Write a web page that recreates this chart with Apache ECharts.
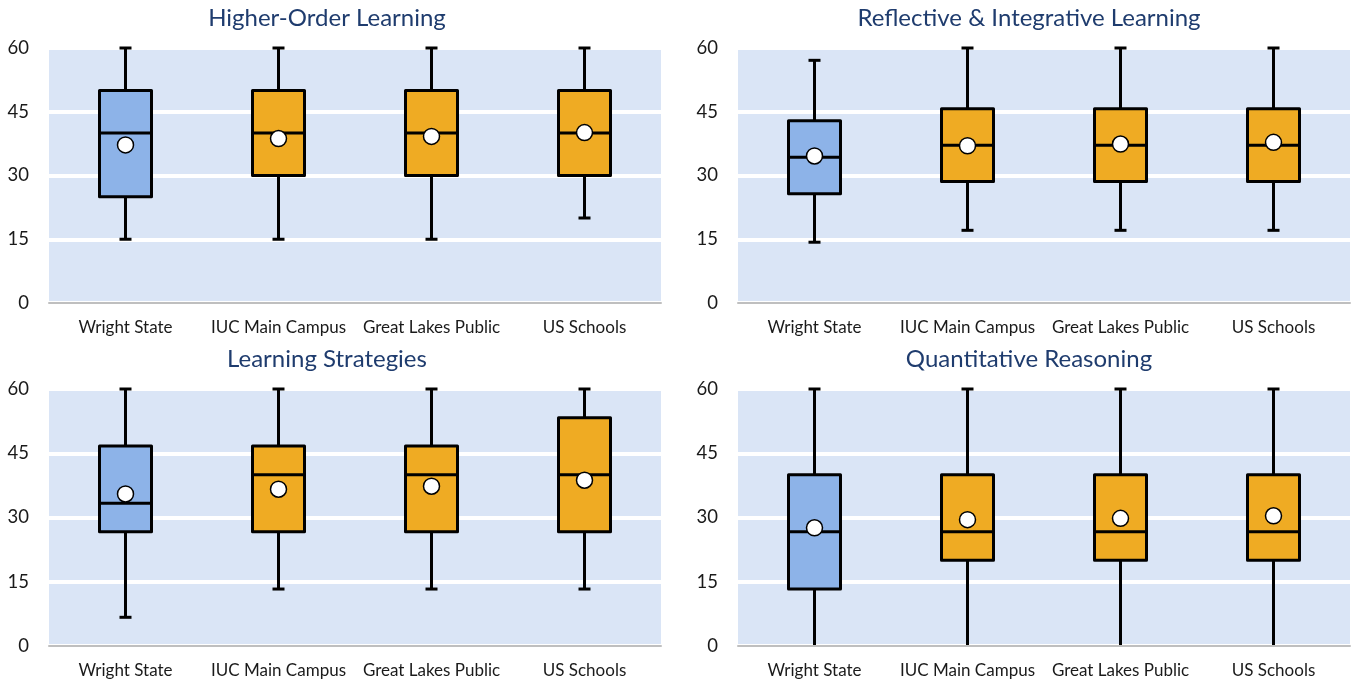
<!DOCTYPE html>
<html>
<head>
<meta charset="utf-8">
<title>Engagement Indicators</title>
<script src="https://cdn.jsdelivr.net/npm/echarts@6/dist/echarts.min.js"></script>
<style>
    html, body { margin: 0; padding: 0; background: #fff; }
    #chart { width: 1352px; height: 683px; }
</style>
</head>
<body>
<div id="chart"></div>
<script>
// 学校分组
const categories = ['Wright State', 'IUC Main Campus', 'Great Lakes Public', 'US Schools'];
const yTicks = [0, 15, 30, 45, 60];

// 每个面板: [最小, Q1, 中位数, Q3, 最大]
const titles = ['Higher-Order Learning', 'Reflective & Integrative Learning', 'Learning Strategies', 'Quantitative Reasoning'];

const higherOrderBox = [[15, 25, 40, 50, 60], [15, 30, 40, 50, 60], [15, 30, 40, 50, 60], [20, 30, 40, 50, 60]];
const higherOrderMean = [37.2, 38.7, 39.2, 40.1];

const reflectiveBox = [[14.3, 25.7, 34.3, 42.9, 57.1], [17.1, 28.6, 37.1, 45.7, 60], [17.1, 28.6, 37.1, 45.7, 60], [17.1, 28.6, 37.1, 45.7, 60]];
const reflectiveMean = [34.6, 37.0, 37.4, 37.8];

const strategiesBox = [[6.7, 26.7, 33.3, 46.7, 60], [13.3, 26.7, 40, 46.7, 60], [13.3, 26.7, 40, 46.7, 60], [13.3, 26.7, 40, 53.3, 60]];
const strategiesMean = [35.5, 36.6, 37.3, 38.7];

const quantitativeBox = [[0, 13.3, 26.7, 40, 60], [0, 20, 26.7, 40, 60], [0, 20, 26.7, 40, 60], [0, 20, 26.7, 40, 60]];
const quantitativeMean = [27.6, 29.5, 29.8, 30.4];

const panelBoxes = [higherOrderBox, reflectiveBox, strategiesBox, quantitativeBox];
const panelMeans = [higherOrderMean, reflectiveMean, strategiesMean, quantitativeMean];

// 布局
const grids = [
    { left: 49, right: 691, top: 48, height: 255 },
    { left: 738, right: 2, top: 48, height: 255 },
    { left: 49, right: 691, top: 389, height: 257 },
    { left: 738, right: 2, top: 389, height: 257 }
];
const titlePos = [[322, 1], [1024, 1], [322, 342], [1024, 342]];

const 蓝 = '#8db3e8';
const 橙 = '#efab23';
const 盒宽 = 52;
const 帽宽 = 12;

function 画盒子(params, api) {
    const x = api.value(0);
    const low = api.coord([x, api.value(1)]);
    const q1 = api.coord([x, api.value(2)]);
    const med = api.coord([x, api.value(3)]);
    const q3 = api.coord([x, api.value(4)]);
    const high = api.coord([x, api.value(5)]);
    const cx = low[0];
    const line = { stroke: '#000', lineWidth: 3 };
    const children = [
        { type: 'line', shape: { x1: cx, y1: q3[1], x2: cx, y2: high[1] }, style: line },
        { type: 'line', shape: { x1: cx, y1: low[1], x2: cx, y2: q1[1] }, style: line },
        { type: 'line', shape: { x1: cx - 帽宽 / 2, y1: high[1], x2: cx + 帽宽 / 2, y2: high[1] }, style: line },
        {
            type: 'rect',
            shape: { x: cx - 盒宽 / 2, y: q3[1], width: 盒宽, height: q1[1] - q3[1] },
            style: { fill: params.dataIndex === 0 ? 蓝 : 橙, stroke: '#000', lineWidth: 3, lineJoin: 'round' }
        },
        { type: 'line', shape: { x1: cx - 盒宽 / 2, y1: med[1], x2: cx + 盒宽 / 2, y2: med[1] }, style: line }
    ];
    // 下须落在 0 上时端帽被坐标轴盖住
    if (api.value(1) > yTicks[0]) {
        children.push({ type: 'line', shape: { x1: cx - 帽宽 / 2, y1: low[1], x2: cx + 帽宽 / 2, y2: low[1] }, style: line });
    }
    return { type: 'group', children: children };
}

const option = {
    animation: false,
    backgroundColor: '#fff',
    textStyle: { fontFamily: 'Lato' },
    title: titles.map((t, i) => ({
        text: t,
        left: titlePos[i][0],
        top: titlePos[i][1],
        textAlign: 'center',
        textStyle: { fontFamily: 'Lato', fontSize: 24, fontWeight: 'normal', color: '#1f3c6e' }
    })),
    grid: grids.map(g => Object.assign({ show: true, backgroundColor: '#dae5f6', borderWidth: 0 }, g)),
    xAxis: grids.map((g, i) => ({
        type: 'category',
        gridIndex: i,
        data: categories,
        z: 5,
        axisLine: { lineStyle: { color: '#bfbfbf', width: 2 } },
        axisTick: { show: false },
        axisLabel: { fontFamily: 'Lato', fontSize: 17, color: '#1a1a1a', margin: 16, interval: 0 }
    })),
    yAxis: grids.map((g, i) => ({
        type: 'value',
        gridIndex: i,
        min: yTicks[0],
        max: yTicks[yTicks.length - 1],
        interval: yTicks[1] - yTicks[0],
        axisLine: { show: false },
        axisTick: { show: false },
        axisLabel: { fontFamily: 'Lato', fontSize: 18.5, color: '#1a1a1a', margin: 20 },
        splitLine: { lineStyle: { color: '#fff', width: 4 } }
    })),
    series: []
};

panelBoxes.forEach((box, i) => {
    option.series.push({
        type: 'custom',
        xAxisIndex: i,
        yAxisIndex: i,
        renderItem: 画盒子,
        clip: false,
        z: 3,
        encode: { x: 0, y: [1, 2, 3, 4, 5] },
        data: box.map((b, j) => [j].concat(b))
    });
    option.series.push({
        type: 'scatter',
        xAxisIndex: i,
        yAxisIndex: i,
        symbol: 'circle',
        symbolSize: 16,
        z: 6,
        itemStyle: { color: '#fff', borderColor: '#000', borderWidth: 1.5, opacity: 1 },
        data: panelMeans[i].map((m, j) => [j, m])
    });
});

const myChart = echarts.init(document.getElementById('chart'), null, { renderer: 'canvas' });
myChart.setOption(option);
</script>
</body>
</html>
